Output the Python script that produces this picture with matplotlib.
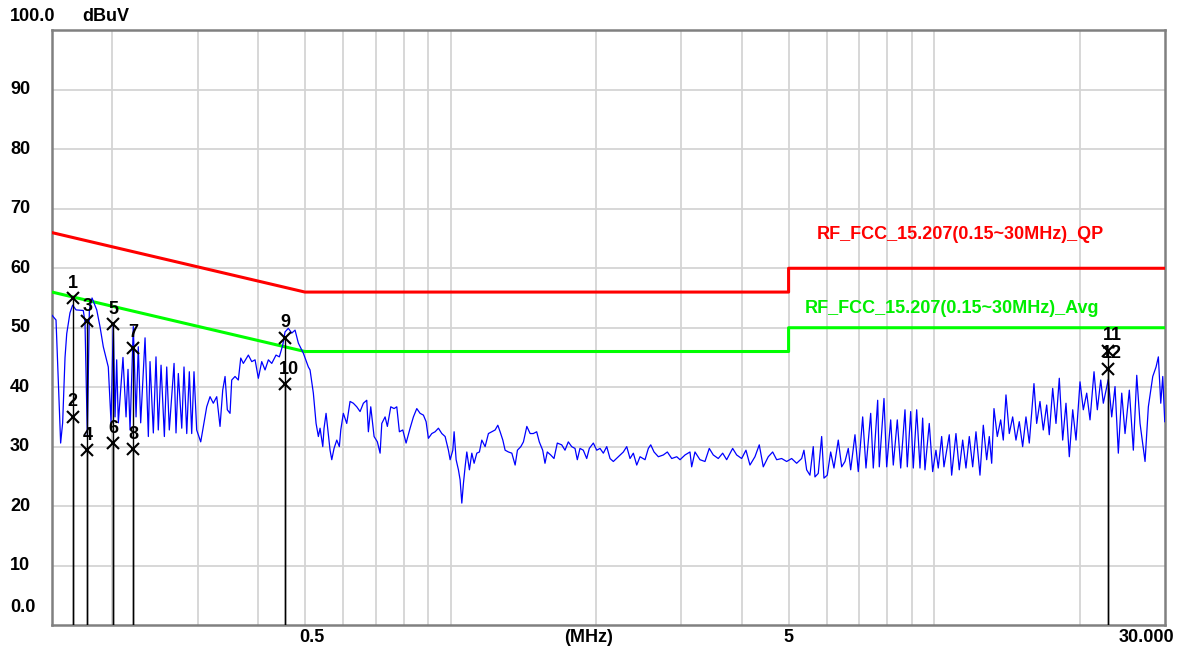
import matplotlib
matplotlib.use("Agg")
import matplotlib.pyplot as plt
import matplotlib.transforms as mtransforms

freq_mhz = [
    0.150, 0.1529, 0.1563, 0.1578, 0.1596, 0.1609, 0.1634, 0.1655, 0.1682, 0.1741,
    0.1755, 0.1775, 0.1792, 0.1815, 0.1856, 0.1885, 0.1915, 0.1961, 0.1987, 0.2008,
    0.2025, 0.2041, 0.2057, 0.2080, 0.2103, 0.2134, 0.2154, 0.2175, 0.2209, 0.2238,
    0.2262, 0.2288, 0.2336, 0.2373, 0.2392, 0.2430, 0.2461, 0.2488, 0.2521, 0.2561,
    0.2590, 0.2622, 0.2682, 0.2707, 0.2737, 0.2782, 0.2812, 0.2849, 0.2884, 0.2917,
    0.2949, 0.2987, 0.3045, 0.3093, 0.3133, 0.3183, 0.3233, 0.3286, 0.3338, 0.3381,
    0.3419, 0.3456, 0.3501, 0.3529, 0.3585, 0.3642, 0.3684, 0.3730, 0.3820, 0.3882,
    0.3944, 0.4006, 0.4071, 0.4136, 0.4202, 0.4270, 0.4358, 0.4427, 0.4500, 0.4549,
    0.4621, 0.4697, 0.4771, 0.4847, 0.4964, 0.5083, 0.5124, 0.5205, 0.5273, 0.5331,
    0.5374, 0.5444, 0.5477, 0.5530, 0.5591, 0.5636, 0.5682, 0.5744, 0.5819, 0.5891,
    0.5931, 0.6004, 0.6102, 0.6199, 0.6297, 0.6400, 0.6502, 0.6605, 0.6712, 0.6764,
    0.6841, 0.6950, 0.7060, 0.7152, 0.7210, 0.7324, 0.7404, 0.7525, 0.7645, 0.7743,
    0.7840, 0.7968, 0.8094, 0.8250, 0.8381, 0.8517, 0.8652, 0.8790, 0.8903, 0.9001,
    0.9148, 0.9293, 0.9441, 0.9595, 0.9747, 0.9901, 0.9982, 1.0111, 1.0173, 1.0271,
    1.0384, 1.0468, 1.0553, 1.0634, 1.0720, 1.0807, 1.0942, 1.1068, 1.1189, 1.1334,
    1.1475, 1.1607, 1.1791, 1.1978, 1.2173, 1.2366, 1.2526, 1.2664, 1.2828, 1.2969,
    1.3175, 1.3390, 1.3602, 1.3752, 1.3976, 1.4150, 1.4381, 1.4609, 1.4830, 1.5072,
    1.5260, 1.5509, 1.5680, 1.5852, 1.6110, 1.6366, 1.6626, 1.6978, 1.7247, 1.7520,
    1.7806, 1.8088, 1.8288, 1.8523, 1.8817, 1.9125, 1.9363, 1.9736, 2.0058, 2.0376,
    2.0700, 2.1038, 2.1371, 2.1710, 2.2232, 2.2767, 2.3139, 2.3505, 2.3877, 2.4267,
    2.4651, 2.5245, 2.5646, 2.5940, 2.6351, 2.6897, 2.7545, 2.8074, 2.8668, 2.9358,
    2.9823, 3.0542, 3.1268, 3.1521, 3.2022, 3.2792, 3.3582, 3.4275, 3.4934, 3.5775,
    3.6533, 3.7235, 3.8312, 3.9048, 3.9989, 4.0817, 4.1601, 4.2603, 4.3485, 4.4321,
    4.5389, 4.6349, 4.7240, 4.8378, 4.9542, 5.0735, 5.1956, 5.3207, 5.3792, 5.4488,
    5.5352, 5.6229, 5.6685, 5.7584, 5.8524, 5.9168, 6.0107, 6.1088, 6.2057, 6.3341,
    6.4374, 6.5394, 6.6431, 6.7194, 6.8585, 6.9672, 7.1147, 7.2275, 7.3910, 7.4829,
    7.6413, 7.6998, 7.8740, 7.9758, 8.1293, 8.2305, 8.3888, 8.5257, 8.7021, 8.7978,
    8.9414, 9.0527, 9.2004, 9.3462, 9.4656, 9.5699, 9.7676, 9.9272, 10.084, 10.195,
    10.362, 10.476, 10.744, 10.867, 11.092, 11.268, 11.452, 11.633, 11.818, 12.011,
    12.201, 12.435, 12.633, 12.839, 12.999, 13.148, 13.293, 13.503, 13.724, 13.895,
    14.074, 14.297, 14.529, 14.759, 14.993, 15.237, 15.479, 15.725, 16.080, 16.288,
    16.547, 16.809, 17.083, 17.295, 17.578, 17.857, 18.140, 18.435, 18.728, 19.025,
    19.336, 19.643, 20.021, 20.338, 20.669, 20.997, 21.401, 21.740, 22.095, 22.370,
    22.908, 23.282, 23.651, 24.026, 24.419, 24.806, 25.319, 25.806, 26.228, 26.643,
    27.285, 27.718, 28.305, 28.754, 29.071, 29.405, 29.686, 29.969,
]
level_dbuv = [
    52.1, 51.3, 30.6, 34.0, 45.0, 49.0, 52.5, 53.8, 53.0, 52.9,
    51.0, 31.7, 53.0, 55.0, 53.0, 50.2, 46.8, 43.4, 34.0, 50.8,
    35.0, 44.6, 34.0, 39.5, 45.0, 35.0, 43.0, 32.8, 50.2, 35.0,
    46.8, 34.0, 48.3, 31.7, 44.3, 32.3, 45.1, 32.8, 43.7, 31.7,
    43.4, 32.8, 44.0, 32.3, 42.3, 33.1, 43.4, 32.2, 42.6, 32.2,
    42.6, 32.8, 30.8, 34.0, 36.7, 38.4, 37.3, 38.4, 33.4, 39.5,
    41.8, 36.2, 35.6, 41.2, 41.8, 41.2, 44.9, 44.0, 45.4, 44.3,
    44.6, 41.5, 44.3, 42.9, 44.6, 44.0, 45.4, 45.1, 47.1, 49.3,
    49.9, 49.1, 49.6, 47.4, 45.7, 43.4, 42.9, 39.0, 33.9, 31.7,
    33.1, 30.0, 33.1, 35.6, 32.0, 29.4, 27.8, 29.7, 31.1, 30.0,
    32.8, 35.6, 33.9, 37.6, 37.3, 36.7, 35.9, 37.3, 37.8, 32.5,
    36.7, 31.7, 30.8, 28.9, 33.9, 35.0, 33.4, 36.7, 36.4, 36.7,
    32.5, 32.8, 30.6, 33.1, 35.0, 36.4, 35.6, 35.3, 34.2, 31.4,
    32.2, 32.5, 33.1, 32.2, 31.7, 29.4, 27.8, 29.4, 32.5, 27.8,
    26.1, 24.4, 20.5, 23.8, 26.6, 29.1, 26.1, 28.9, 27.2, 28.9,
    29.1, 31.1, 30.0, 32.2, 32.5, 32.8, 33.6, 32.5, 31.1, 29.4,
    29.1, 28.9, 26.9, 29.4, 30.0, 30.8, 33.4, 32.2, 32.2, 32.5,
    30.8, 29.4, 27.2, 29.1, 28.6, 28.0, 30.6, 30.3, 29.4, 30.8,
    30.0, 29.7, 27.8, 29.7, 29.4, 28.0, 29.7, 30.6, 29.4, 29.7,
    28.9, 30.0, 28.0, 27.5, 28.3, 29.1, 30.0, 28.0, 28.9, 26.9,
    28.3, 27.8, 29.7, 30.3, 29.1, 28.3, 28.6, 29.1, 28.0, 28.3,
    27.8, 28.6, 29.1, 26.6, 29.1, 27.8, 27.5, 29.7, 28.6, 28.0,
    28.9, 27.8, 29.7, 28.6, 28.0, 29.4, 26.9, 28.3, 30.3, 26.6,
    28.3, 29.1, 27.8, 28.0, 27.5, 28.0, 27.2, 28.0, 29.4, 26.1,
    25.2, 30.0, 24.9, 25.5, 31.7, 24.7, 25.2, 29.1, 26.4, 31.1,
    26.6, 27.5, 29.7, 26.1, 32.0, 25.8, 35.0, 26.4, 35.6, 26.4,
    37.8, 26.6, 38.1, 26.6, 34.5, 26.9, 34.5, 26.4, 36.2, 26.6,
    35.9, 26.4, 36.2, 26.4, 34.8, 26.1, 33.9, 25.8, 29.4, 26.4,
    31.7, 26.6, 32.0, 25.2, 32.2, 26.1, 31.1, 26.4, 31.7, 26.6,
    32.5, 25.2, 33.6, 27.8, 31.7, 27.2, 36.4, 31.7, 34.5, 31.1,
    38.7, 32.2, 35.0, 31.1, 34.2, 30.0, 35.0, 30.6, 40.6, 33.9,
    37.6, 32.8, 37.0, 32.0, 39.8, 33.9, 41.5, 31.1, 37.3, 28.3,
    36.2, 31.1, 40.9, 36.2, 39.0, 34.5, 42.6, 36.2, 41.2, 37.3,
    41.3, 35.0, 40.1, 28.9, 39.0, 32.2, 39.5, 29.4, 42.0, 33.9,
    27.5, 36.7, 41.8, 43.4, 45.1, 37.3, 41.8, 34.2,
]

# FCC 15.207 limits (0.15-0.5 MHz sloped, 0.5-5 flat, 5-30 flat)
limit_freq = [0.15, 0.5, 5.0, 5.0, 30.0]
qp_limit = [66, 56, 56, 60, 60]
avg_limit = [56, 46, 46, 50, 50]
qp_name = "RF_FCC_15.207(0.15~30MHz)_QP"
avg_name = "RF_FCC_15.207(0.15~30MHz)_Avg"

# marker table
marker_no = [1, 2, 3, 4, 5, 6, 7, 8, 9, 10, 11, 12]
marker_freq = [0.1655, 0.1655, 0.1775, 0.1775, 0.2008, 0.2008,
               0.2209, 0.2209, 0.4549, 0.4549, 22.908, 22.908]
marker_level = [55.0, 35.0, 51.1, 29.4, 50.6, 30.6,
                46.6, 29.6, 48.3, 40.5, 46.1, 43.1]

y_ticks = [10, 20, 30, 40, 50, 60, 70, 80, 90]
grid_freq = [0.2, 0.3, 0.4, 0.5, 0.6, 0.7, 0.8, 0.9, 1, 2, 3, 4, 5, 6, 7, 8, 9, 10, 20]
x_labels = [(0.5, "0.5", 7), (1.925, "(MHz)", 0), (5.0, "5", 0), (30.0, "30.000", -19)]

FONT = ["Liberation Sans", "DejaVu Sans"]
FS = 13

fig = plt.figure(figsize=(11.79, 6.5), dpi=100)
ax = fig.add_axes([0.0441, 0.0385, 0.944, 0.9146])
ax.set_xscale("log")
ax.set_xlim(0.15, 30)
ax.set_ylim(0, 100)

ax.set_xticks(grid_freq)
ax.set_xticks([], minor=True)
ax.set_yticks(y_ticks)
ax.set_xticklabels([])
ax.set_yticklabels([])
ax.tick_params(length=0, which="both")
ax.grid(True, color="#d4d4d4", linewidth=1.3)
ax.set_axisbelow(True)
for s in ax.spines.values():
    s.set_color("#808080")
    s.set_linewidth(1.8)

ax.plot(limit_freq, qp_limit, color="#ff0000", lw=2.2, zorder=3)
ax.plot(limit_freq, avg_limit, color="#00ff00", lw=2.2, zorder=3)
ax.plot(freq_mhz, level_dbuv, color="#0000ff", lw=0.9, zorder=4)

ax.text(5.72, 65.6, qp_name, color="#ff0000", fontsize=FS, fontweight="bold",
        family=FONT, va="center", ha="left")
ax.text(5.41, 53.3, avg_name, color="#00ee00", fontsize=FS, fontweight="bold",
        family=FONT, va="center", ha="left")

# markers: vertical line to the floor, an X, and the number above it
ax.vlines(marker_freq, 0, marker_level, color="black", lw=1.0, zorder=5)
ax.plot(marker_freq, marker_level, "x", color="black", ms=8, mew=1.5, zorder=6)
for n, f, lv in zip(marker_no, marker_freq, marker_level):
    dx = 4 if n >= 10 else 0
    ax.annotate(str(n), xy=(f, lv), xytext=(dx, 15), textcoords="offset pixels",
                ha="center", va="center", fontsize=FS, fontweight="bold",
                family=FONT, zorder=7)

# y labels sit left of the frame
ytrans = mtransforms.blended_transform_factory(fig.transFigure, ax.transData)
for v in y_ticks:
    ax.text(10 / 1179, v, str(v), transform=ytrans, ha="left", va="center",
            fontsize=FS, fontweight="bold", family=FONT)
ax.text(10 / 1179, 2.9, "0.0", transform=ytrans, ha="left", va="center",
        fontsize=FS, fontweight="bold", family=FONT)
ax.text(10 / 1179, 102.3, "100.0", transform=ytrans, ha="left", va="center",
        fontsize=FS, fontweight="bold", family=FONT, clip_on=False)
ax.text(82 / 1179, 102.3, "dBuV", transform=ytrans, ha="left", va="center",
        fontsize=FS, fontweight="bold", family=FONT, clip_on=False)

for f, lab, dx in x_labels:
    ax.annotate(lab, xy=(f, 0), xycoords=("data", "axes fraction"),
                xytext=(dx, -13), textcoords="offset pixels",
                ha="center", va="center", fontsize=FS, fontweight="bold",
                family=FONT, annotation_clip=False)

fig.savefig("out.png", dpi=100, facecolor="white")
